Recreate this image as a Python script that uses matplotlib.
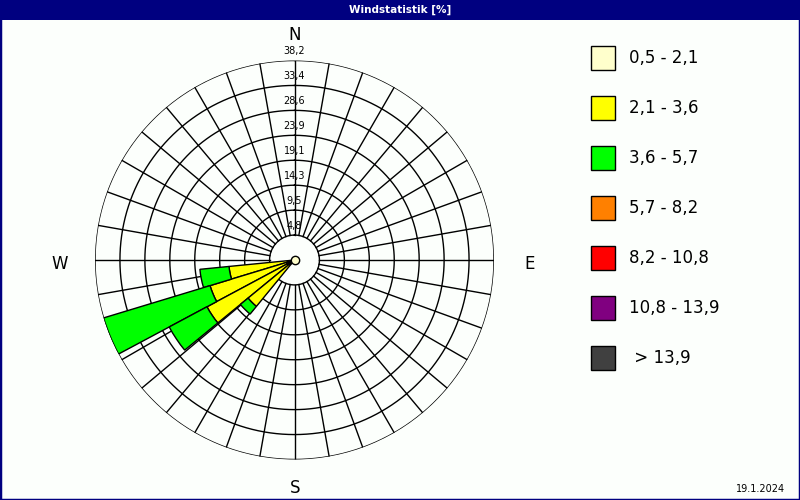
import numpy as np
import matplotlib
matplotlib.use("Agg")
import matplotlib.pyplot as plt
from matplotlib.patches import Rectangle

# ---- data ----
directions_deg = [258.75, 247.5, 236.25, 225.0]
cls_0_5_2_1 = [1.0, 1.5, 1.5, 1.0]
cls_2_1_3_6 = [11.6, 15.4, 17.5, 10.5]
cls_3_6_5_7 = [5.6, 21.3, 8.2, 1.9]
ring_labels = ["4,8", "9,5", "14,3", "19,1", "23,9", "28,6", "33,4", "38,2"]
ring_values = [4.775, 9.55, 14.325, 19.1, 23.875, 28.65, 33.425, 38.2]
legend_labels = ["0,5 - 2,1", "2,1 - 3,6", "3,6 - 5,7", "5,7 - 8,2",
                 "8,2 - 10,8", "10,8 - 13,9", " > 13,9"]
legend_colors = ["#FFFFCC", "#FFFF00", "#00FF00", "#FF8000",
                 "#FF0000", "#800080", "#404040"]
title = "Windstatistik [%]"
date_text = "19.1.2024"

W, H = 800, 500
fig = plt.figure(figsize=(8, 5), dpi=100)
fig.patch.set_facecolor("#FCFFFC")

def fx(x):
    return x / W

def fy(y):
    return 1 - y / H

# title bar and border
fig.add_artist(Rectangle((0, fy(20)), 1, 20 / H, transform=fig.transFigure,
                         facecolor="#000080", edgecolor="none", zorder=0))
fig.add_artist(Rectangle((0, 0), 1, 1, transform=fig.transFigure,
                         facecolor="none", edgecolor="#000080", lw=2.5, zorder=5))
fig.text(0.5, fy(10), title, color="white", fontsize=7.5, fontweight="bold",
         ha="center", va="center", family="DejaVu Sans")

# polar axes
cx, cy, R = 294.5, 260, 199.5
ax = fig.add_axes([fx(cx - R), fy(cy + R), 2 * R / W, 2 * R / H], projection="polar")
ax.set_theta_zero_location("N")
ax.set_theta_direction(-1)
rmax = ring_values[-1]
ax.set_ylim(0, rmax)
ax.axis("off")

th = np.linspace(0, 2 * np.pi, 721)
for rv in ring_values:
    ax.plot(th, np.full_like(th, rv), color="black", lw=1, zorder=1)
for a in range(0, 360, 10):
    t = np.deg2rad(a)
    ax.plot([t, t], [ring_values[0], rmax], color="black", lw=1, zorder=1)

for lab, rv in zip(ring_labels, ring_values):
    ax.text(0, rv + 1.75, lab, ha="center", va="center", fontsize=7, zorder=2)

theta = np.deg2rad(directions_deg)
width = np.deg2rad(11.25)
bottom = np.zeros(len(theta))
for vals, col in zip([cls_0_5_2_1, cls_2_1_3_6, cls_3_6_5_7], legend_colors[:3]):
    vals = np.array(vals)
    ax.bar(theta, vals, width=width, bottom=bottom, color=col,
           edgecolor="black", linewidth=1, zorder=3)
    bottom = bottom + vals

ax.plot([0], [0], "o", ms=6, mfc=legend_colors[0], mec="black", mew=1, zorder=4)

# compass labels
for lab, (x, y) in zip(["N", "S", "W", "E"],
                       [(295, 35), (295, 488), (60, 264), (530, 264)]):
    fig.text(fx(x), fy(y), lab, ha="center", va="center", fontsize=12)

# legend
for i, (lab, col) in enumerate(zip(legend_labels, legend_colors)):
    y0 = 46 + 50 * i
    fig.add_artist(Rectangle((fx(591), fy(y0 + 24)), 24 / W, 24 / H,
                             transform=fig.transFigure, facecolor=col,
                             edgecolor="black", lw=1))
    fig.text(fx(629), fy(y0 + 12), lab, ha="left", va="center", fontsize=12)

fig.text(fx(785), fy(489), date_text, ha="right", va="center", fontsize=7)

fig.savefig("out.png", dpi=100, facecolor=fig.get_facecolor())
